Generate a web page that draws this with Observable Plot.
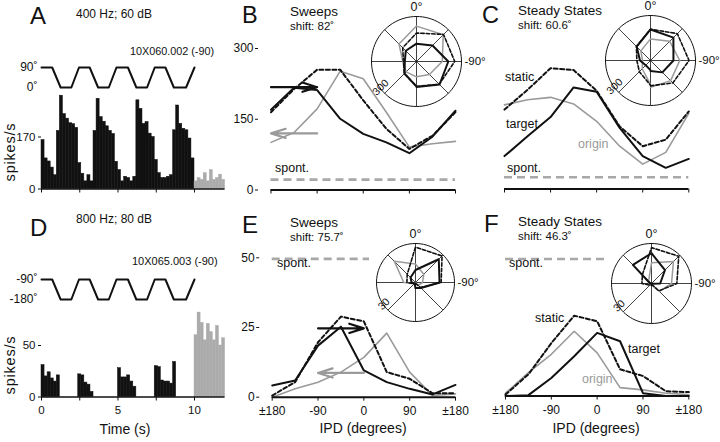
<!DOCTYPE html>
<html><head><meta charset="utf-8">
<script src="https://cdn.jsdelivr.net/npm/d3@7"></script>
<script src="https://cdn.jsdelivr.net/npm/@observablehq/plot@0.6"></script>
<style>
html,body{margin:0;padding:0;background:#fff;}
#fig{position:relative;width:720px;height:442px;overflow:hidden;font-family:"Liberation Sans",Arial,Helvetica,sans-serif;color:#111;background:#fff;}
#fig svg{position:absolute;overflow:visible;}
.lbl{position:absolute;white-space:nowrap;line-height:1;}
</style></head><body><div id="fig"></div>
<script>
// ---------------- DATA ----------------
const ipd = [-180,-135,-90,-45,0,45,90,135,180];
const ipdTicks = [-180,-90,0,90,180];
const ipdTickLabels = ["±180","-90","0","90","±180"];
const polarSpokes = [0,45,90,135,180,225,270,315];

const timeTicks = [0,2.5,5,7.5,10];
const timeTickLabels = ["0","","5","","10"];
const binWidth = 0.2;

const stimTime = [0,0.7,1.25,1.95,2.45,3.15,3.7,4.4,4.9,5.65,6.2,6.9,7.4,8.1,8.65,9.45,10];
const stimA = [90,90,0,0,90,90,0,0,90,90,0,0,90,90,0,0,90];
const stimD = [-90,-90,-180,-180,-90,-90,-180,-180,-90,-90,-180,-180,-90,-90,-180,-180,-90];
const stimATicks = [0,90];
const stimDTicks = [-180,-90];

const aRate = [160,100,90,70,45,190,305,245,230,215,212,200,85,50,25,45,25,190,295,235,
               220,205,190,180,89,62,25,40,36,25,40,290,262,213,219,181,170,95,52,36,
               36,40,45,192,273,213,197,192,165,100];
const aAfter = [25,36,30,52,25,62,30,36,47,30];
const aYTicks = [0,170];

const dRate = [31,20,24,18,15,21,0,0,0,0,0,0,22,21,14,12,5,0,0,0,
               0,0,0,0,0,28,19,19,21,15,10,0,0,0,0,0,0,30,29,16,
               15,15,13,34,0,0,0,0,0,0];
const dAfter = [60,82,72,55,71,63,55,69,50,57];
const dYTicks = [0,50];

// B: 400 Hz sweeps
const bTarget = [170,217,212,151,119,101,78,113,168];
const bOrigin = [101,122,172,252,236,165,91,98,103];
const bStatic = [165,214,255,255,190,130,87,115,165];
const bSpont = [22];
const bArrowTarget = [{from:-180,to:-90,rate:218}];
const bArrowOrigin = [{from:-90,to:-180,rate:120}];
const bYTicks = [0,150,300];
// C: 400 Hz steady states
const cTarget = [70,112,153,216,207,130,70,45,64];
const cOrigin = [179,190,195,181,144,91,53,78,161];
const cStatic = [169,211,257,253,209,133,91,105,165];
const cSpont = [25];
// E: 800 Hz sweeps
const eTarget = [4.2,6,18.5,25.3,9.6,5.4,3,1,4.4];
const eOrigin = [0,3,5.4,9,14.3,23,9,0.6,1.2];
const eStatic = [0.6,5.4,19.7,28.9,27.2,9,6.6,1.4,1.4];
const eSpont = [49.6];
const eArrowTarget = [{from:-90,to:0,rate:24.7}];
const eArrowOrigin = [{from:0,to:-90,rate:8.7}];
const eYTicks = [0,25,50];
// F: 800 Hz steady states
const fTarget = [0,0.3,6.5,14.3,22.7,19.7,1,0,0];
const fOrigin = [1,8.4,15,23.3,15.5,3,2.2,1,0.5];
const fStatic = [0.5,7.8,19,28.9,26.9,9.6,7.2,1.7,1.4];
const fSpont = [49.3];

const polarMaxTop = 300, polarMaxBottom = 30;

// ---------------- HELPERS ----------------
const fig = document.getElementById("fig");
const BLACK = "#111", GRAY = "#9a9a9a", GRAYBAR = "#ababab", SPONT = "#a8a8a8";
const FONT = "'Liberation Sans', Arial, Helvetica, sans-serif";

function plotAt(left, top, width, height, xPx, yPx, inset, spec, bg, fs) {
  const p = Plot.plot({
    width, height,
    marginLeft: xPx[0] - inset - left,
    marginRight: left + width - xPx[1],
    marginTop: yPx[1] - top,
    marginBottom: top + height - yPx[0],
    style: {background: bg || "transparent", fontFamily: FONT, fontSize: (fs || 12) + "px", color: BLACK, overflow: "visible"},
    ...spec,
    x: {...spec.x, insetLeft: inset},
  });
  p.style.position = "absolute";
  p.style.left = left + "px";
  p.style.top = top + "px";
  fig.appendChild(p);
  return p;
}

function label(text, x, baseline, size, o = {}) {
  const d = document.createElement("div");
  d.className = "lbl";
  d.textContent = text;
  d.style.fontSize = size + "px";
  d.style.left = x + "px";
  d.style.top = (baseline - 0.8465 * size) + "px";
  const tx = o.anchor === "middle" ? "-50%" : o.anchor === "end" ? "-100%" : "0";
  d.style.transform = `translateX(${tx})`;
  d.style.color = o.color || BLACK;
  fig.appendChild(d);
}
function vlabel(text, cx, cy, size) {
  const d = document.createElement("div");
  d.className = "lbl";
  d.textContent = text;
  d.style.fontSize = size + "px";
  d.style.letterSpacing = "0.8px";
  d.style.left = cx + "px";
  d.style.top = cy + "px";
  d.style.transform = "translate(-50%,-50%) rotate(-90deg)";
  fig.appendChild(d);
}

const bins = (vals, start) => vals.map((v, i) => ({t0: start + i * binWidth, t1: start + (i + 1) * binWidth, v}));
const series = vals => vals.map((v, i) => ({ipd: ipd[i], v}));
const rad = a => a * Math.PI / 180;
const polarPts = vals => vals.map((v, i) => ({x: -v * Math.sin(rad(ipd[i])), y: v * Math.cos(rad(ipd[i]))}));

// ---------------- PSTH PANELS (A, D) ----------------
const xTimePx = [41, 41 + 12 * 15.3];
function stimPlot(top, levels, ticks, yPx) {
  const stim = stimTime.map((t, i) => ({t, v: levels[i]}));
  plotAt(0, top, 240, 40, xTimePx, yPx, 0, {
    x: {domain: [0, 12], axis: null},
    y: {domain: [ticks[0], ticks[1]], ticks, tickSize: 0, tickPadding: 4, tickFormat: d => d + "˚", label: null},
    marks: [Plot.line(stim, {x: "t", y: "v", stroke: BLACK, strokeWidth: 2})]
  }, null, 12);
}
stimPlot(55, stimA, stimATicks, [87, 67]);
stimPlot(265, stimD, stimDTicks, [299, 279]);

function psth(top, height, yPx, yDomain, yTicks, rate, after, showLabels) {
  plotAt(0, top, 240, height, xTimePx, yPx, 0, {
    x: {domain: [0, 12], ticks: timeTicks, tickSize: 4, tickPadding: 5,
        tickFormat: showLabels ? ((d, i) => timeTickLabels[i]) : (() => ""), label: null},
    y: {domain: yDomain, ticks: yTicks, tickSize: 3, tickPadding: 3, label: null},
    marks: [
      Plot.rect(bins(rate, 0), {x1: "t0", x2: "t1", y1: () => 0, y2: "v", fill: BLACK, stroke: BLACK, strokeWidth: 0.5}),
      Plot.rect(bins(after, 10), {x1: "t0", x2: "t1", y1: () => 0, y2: "v", fill: GRAYBAR, stroke: GRAYBAR, strokeWidth: 0.4}),
      Plot.ruleY([0], {x1: () => 0, x2: () => 12, stroke: BLACK, strokeWidth: 1.5})
    ]
  }, null, 11.5);
}
psth(88, 112, [188.5, 136.5], [0, 170], aYTicks, aRate, aAfter, false);
psth(305, 137, [396.5, 345], [0, 50], dYTicks, dRate, dAfter, true);

// ---------------- TUNING PANELS (B, C, E, F) ----------------
function tuning({left, top, width, height, xPx, yPx, yDomain, yTicks, showX, target, origin, stat, spont, arrows}) {
  const marks = [
    Plot.ruleY(spont, {x1: () => -180, x2: () => 180, stroke: SPONT, strokeWidth: 2.6, strokeDasharray: "8,5"}),
    Plot.line(series(origin), {x: "ipd", y: "v", stroke: GRAY, strokeWidth: 1.6}),
    Plot.line(series(stat), {x: "ipd", y: "v", stroke: BLACK, strokeWidth: 2, strokeDasharray: "4,2.5"}),
    Plot.line(series(target), {x: "ipd", y: "v", stroke: BLACK, strokeWidth: 2}),
    Plot.ruleY([0], {x1: () => -180, x2: () => 180, stroke: BLACK, strokeWidth: 2})
  ];
  if (arrows) {
    marks.push(Plot.arrow(arrows[1], {x1: "from", x2: "to", y1: "rate", y2: "rate", stroke: GRAY, strokeWidth: 2.2, headLength: 13, headAngle: 35}));
    marks.push(Plot.arrow(arrows[0], {x1: "from", x2: "to", y1: "rate", y2: "rate", stroke: BLACK, strokeWidth: 2.2, headLength: 13, headAngle: 35}));
  }
  plotAt(left, top, width, height, xPx, yPx, yTicks ? 12.5 : 0, {
    x: {domain: [-180, 180], ticks: ipdTicks, tickSize: 4, tickPadding: 5,
        tickFormat: showX ? ((d, i) => ipdTickLabels[i]) : (() => ""), label: null},
    y: yTicks ? {domain: yDomain, ticks: yTicks, tickSize: 3, tickPadding: 2, label: null} : {domain: yDomain, axis: null},
    marks
  }, null, 12);
}

tuning({left: 228, top: 36, width: 240, height: 160, xPx: [270.5, 455], yPx: [189.5, 48], yDomain: [0, 300], yTicks: bYTicks,
  showX: false, target: bTarget, origin: bOrigin, stat: bStatic, spont: bSpont, arrows: [bArrowTarget, bArrowOrigin]});
tuning({left: 480, top: 36, width: 230, height: 160, xPx: [504, 688.3], yPx: [188.5, 47.5], yDomain: [0, 300], yTicks: null,
  showX: false, target: cTarget, origin: cOrigin, stat: cStatic, spont: cSpont});
tuning({left: 228, top: 250, width: 240, height: 180, xPx: [271.7, 455], yPx: [396.7, 257.3], yDomain: [0, 50], yTicks: eYTicks,
  showX: true, target: eTarget, origin: eOrigin, stat: eStatic, spont: eSpont, arrows: [eArrowTarget, eArrowOrigin]});
tuning({left: 480, top: 250, width: 230, height: 180, xPx: [505, 688.3], yPx: [395.5, 256.5], yDomain: [0, 50], yTicks: null,
  showX: true, target: fTarget, origin: fOrigin, stat: fStatic, spont: fSpont});

// ---------------- POLAR INSETS ----------------
function polar({cx, cy, R, max, target, origin, stat, rText, bg}) {
  const circle = d3.range(0, 361, 4).map(a => ({x: max * Math.sin(rad(a)), y: max * Math.cos(rad(a))}));
  const spokes = polarSpokes.map(a => ({x: max * Math.sin(rad(a)), y: max * Math.cos(rad(a))}));
  const left = cx - R - 7, top = cy - R - 22;
  plotAt(left, top, 2 * R + 45, 2 * R + 28, [cx - R, cx + R], [cy + R, cy - R], 0, {
    x: {domain: [-max, max], axis: null},
    y: {domain: [-max, max], axis: null},
    marks: [
      Plot.link(spokes, {x1: () => 0, y1: () => 0, x2: "x", y2: "y", stroke: BLACK, strokeWidth: 0.8}),
      Plot.line(circle, {x: "x", y: "y", stroke: BLACK, strokeWidth: 1}),
      Plot.line(polarPts(origin), {x: "x", y: "y", stroke: GRAY, strokeWidth: 1.5}),
      Plot.line(polarPts(stat), {x: "x", y: "y", stroke: BLACK, strokeWidth: 1.6, strokeDasharray: "3.5,2"}),
      Plot.line(polarPts(target), {x: "x", y: "y", stroke: BLACK, strokeWidth: 2}),
      Plot.text([max], {x: () => 0, y: d => d, dy: -10, text: () => "0°", fontSize: 12.5}),
      Plot.text([max], {x: d => d, y: () => 0, dx: 3, textAnchor: "start", text: () => "-90°", fontSize: 11.5}),
      Plot.text([max], {x: d => -d * Math.SQRT1_2, y: d => -d * Math.SQRT1_2, dx: -4, dy: -6, rotate: -45, text: () => rText, fontSize: 10.5})
    ]
  }, bg, 12);
}
polar({cx: 416, cy: 61, R: 45, max: polarMaxTop, target: bTarget, origin: bOrigin, stat: bStatic, rText: "300"});
polar({cx: 650, cy: 60, R: 45, max: polarMaxTop, target: cTarget, origin: cOrigin, stat: cStatic, rText: "300"});
polar({cx: 415, cy: 282, R: 39, max: polarMaxBottom, target: eTarget, origin: eOrigin, stat: eStatic, rText: "30", bg: "#fff"});
polar({cx: 651, cy: 283, R: 40, max: polarMaxBottom, target: fTarget, origin: fOrigin, stat: fStatic, rText: "30", bg: "#fff"});

// ---------------- TEXT ----------------
label("A", 30, 24.5, 24); label("D", 30, 236.5, 24);
label("B", 242, 23.5, 23.5); label("C", 482, 23.5, 23.5);
label("E", 242, 233.5, 24); label("F", 484, 232.5, 24);

label("400 Hz; 60 dB", 76, 18, 12);
label("800 Hz; 80 dB", 76, 223, 12);
label("10X060.002 (-90)", 130, 55, 10.8);
label("10X065.003 (-90)", 132, 265, 11);
vlabel("spikes/s", 10, 152, 14.5);
vlabel("spikes/s", 10, 365, 14.5);
label("Time (s)", 125, 434, 14, {anchor: "middle"});

label("Sweeps", 290, 16.5, 13.5);
label("shift: 82˚", 290, 30.5, 11.5);
label("spont.", 275, 173, 12.5);

label("Steady States", 518, 15.5, 13.5);
label("shift: 60.6˚", 518, 30, 11.5);
label("static", 505, 82, 12.5);
label("target", 506, 128.5, 12.5);
label("origin", 578, 149, 12.5, {color: GRAY});
label("spont.", 507, 173, 12.5);

label("Sweeps", 290, 227, 13.5);
label("shift: 75.7˚", 290, 242, 11.5);
label("spont.", 277, 268, 12.5);
label("IPD (degrees)", 363, 433, 14, {anchor: "middle"});

label("Steady States", 518, 226, 13.5);
label("shift: 46.3˚", 518, 241, 11.5);
label("spont.", 509, 268, 12.5);
label("static", 535, 323, 12.5);
label("target", 628, 354, 12.5);
label("origin", 582, 384, 12.5, {color: GRAY});
label("IPD (degrees)", 596, 433, 14, {anchor: "middle"});
</script></body></html>
